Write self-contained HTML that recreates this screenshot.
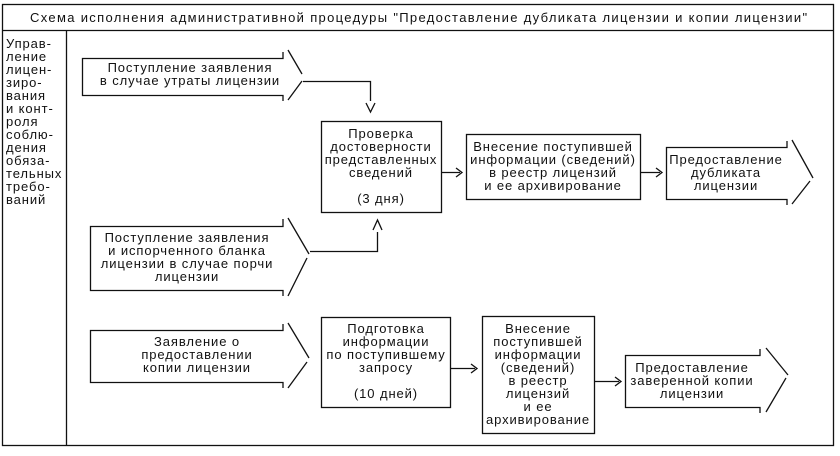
<!DOCTYPE html>
<html><head><meta charset="utf-8"><style>
html,body{margin:0;padding:0;background:#fff;}
svg{display:block;}
text{font-family:"Liberation Sans","DejaVu Sans",sans-serif;font-size:13px;fill:#111;letter-spacing:0.9px;}
</style></head><body>
<svg width="840" height="456" viewBox="0 0 840 456" xmlns="http://www.w3.org/2000/svg">
<g fill="none" stroke="#111" stroke-width="1.3">
<rect x="2.5" y="4.5" width="831" height="441"/>
<line x1="2" y1="30.5" x2="834" y2="30.5"/>
<line x1="66.5" y1="30" x2="66.5" y2="446"/>
<polyline points="283,52 283,58.5 82.5,58.5 82.5,95.5 283,95.5 283,101"/>
<polyline points="288,50 302,74"/><polyline points="302,81 288,100"/>
<polyline points="303,81.5 370.5,81.5 370.5,101"/>
<polyline points="366,103 370.5,112 375,103"/>
<rect x="321.5" y="121.5" width="120" height="91"/>
<line x1="441" y1="172.5" x2="460" y2="172.5"/><polyline points="456,168 462,172.5 456,177"/>
<rect x="466.5" y="134.5" width="174" height="65"/>
<line x1="640" y1="172.5" x2="660" y2="172.5"/><polyline points="656,168 662,172.5 656,177"/>
<polyline points="787,141 787,147.5 666.5,147.5 666.5,199.5 787,199.5 787,205"/>
<polyline points="792,140 813,178"/><polyline points="810,181 792,204"/>
<polyline points="283,219 283,226.5 90.5,226.5 90.5,290.5 283,290.5 283,296"/>
<polyline points="288,218 309,254"/><polyline points="307,258 288,296"/>
<polyline points="310,251.5 377.5,251.5 377.5,232"/>
<polyline points="373,230 377.5,220 382,230"/>
<polyline points="283,324 283,330.5 90.5,330.5 90.5,382.5 283,382.5 283,388"/>
<polyline points="288,323 309,358"/><polyline points="307,362 288,388"/>
<rect x="321.5" y="317.5" width="129" height="90"/>
<line x1="450" y1="368.5" x2="475" y2="368.5"/><polyline points="471,364 477,368.5 471,373"/>
<rect x="482.5" y="316.5" width="112" height="117"/>
<line x1="594" y1="381.5" x2="619" y2="381.5"/><polyline points="615,377 621,381.5 615,386"/>
<polyline points="760,349 760,355.5 625.5,355.5 625.5,407.5 760,407.5 760,413"/>
<polyline points="766,348 788,375"/><polyline points="786,378 766,412"/>
</g>
<text x="30" y="22" textLength="778" lengthAdjust="spacing">Схема исполнения административной процедуры "Предоставление дубликата лицензии и копии лицензии"</text>
<g>
<text x="6" y="48">Управ-</text><text x="6" y="61">ление</text><text x="6" y="74">лицен-</text><text x="6" y="87">зиро-</text><text x="6" y="100">вания</text><text x="6" y="113">и конт-</text><text x="6" y="126">роля</text><text x="6" y="139">соблю-</text><text x="6" y="152">дения</text><text x="6" y="165">обяза-</text><text x="6" y="178">тельных</text><text x="6" y="191">требо-</text><text x="6" y="204">ваний</text>
</g>
<g text-anchor="middle">
<text x="190" y="72">Поступление заявления</text><text x="190" y="85">в случае утраты лицензии</text>
<text x="381" y="138">Проверка</text><text x="381" y="151">достоверности</text><text x="381" y="164">представленных</text><text x="381" y="177">сведений</text><text x="381" y="203">(3 дня)</text>
<text x="553" y="151">Внесение поступившей</text><text x="553" y="164">информации (сведений)</text><text x="553" y="177">в реестр лицензий</text><text x="553" y="190">и ее архивирование</text>
<text x="726" y="164">Предоставление</text><text x="726" y="177">дубликата</text><text x="726" y="190">лицензии</text>
<text x="187" y="242">Поступление заявления</text><text x="187" y="255">и испорченного бланка</text><text x="187" y="268">лицензии в случае порчи</text><text x="187" y="281">лицензии</text>
<text x="197" y="346">Заявление о</text><text x="197" y="359">предоставлении</text><text x="197" y="372">копии лицензии</text>
<text x="386" y="333">Подготовка</text><text x="386" y="346">информации</text><text x="386" y="359">по поступившему</text><text x="386" y="372">запросу</text><text x="386" y="398">(10 дней)</text>
<text x="538" y="333">Внесение</text><text x="538" y="346">поступившей</text><text x="538" y="359">информации</text><text x="538" y="372">(сведений)</text><text x="538" y="385">в реестр</text><text x="538" y="398">лицензий</text><text x="538" y="411">и ее</text><text x="538" y="424">архивирование</text>
<text x="692" y="372">Предоставление</text><text x="692" y="385">заверенной копии</text><text x="692" y="398">лицензии</text>
</g>
</svg>
</body></html>
